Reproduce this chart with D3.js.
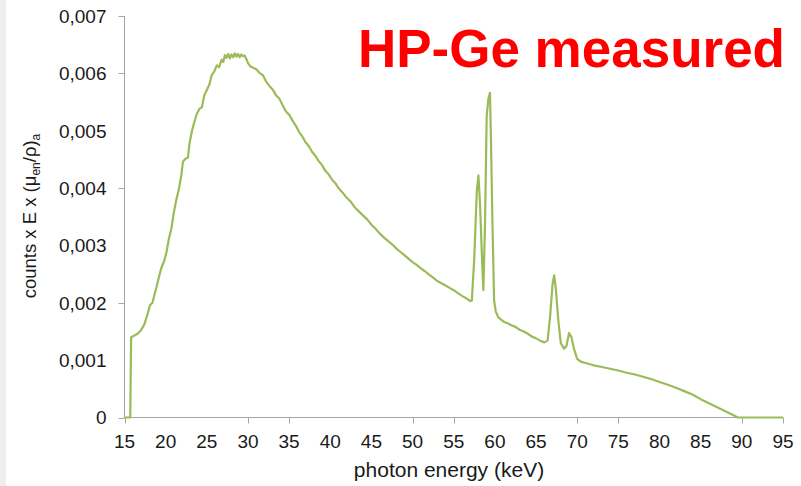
<!DOCTYPE html>
<html>
<head>
<meta charset="utf-8">
<script src="https://cdn.jsdelivr.net/npm/d3@7"></script>
<style>
  html, body { margin: 0; padding: 0; background: #fff; }
  svg { display: block; font-family: "Liberation Sans", Arial, sans-serif; }
</style>
</head>
<body>
<div id="chart"></div>
<script>
// photon energy (keV) and the measured curve
const energy = [
  15, 15.7, 15.8, 16.2, 16.6, 17.0, 17.4, 17.8, 18.1, 18.4, 18.6, 18.9, 19.2, 19.5, 19.8,
  20.1, 20.4, 20.7, 21.0, 21.3, 21.6, 21.9, 22.1, 22.4, 22.7, 22.9, 23.2, 23.5, 23.8, 24.1,
  24.4, 24.7, 25.0, 25.3, 25.6, 25.9, 26.2, 26.5, 26.8, 27.0, 27.2, 27.4, 27.6, 27.8, 28.0,
  28.2, 28.4, 28.6, 28.8, 29.0, 29.2, 29.4, 29.6, 29.8, 30.0, 30.3, 30.6, 31.0, 31.4, 31.8,
  32.2, 32.6, 33.0, 33.4, 33.8, 34.2, 34.6, 35.0, 35.4, 35.8, 36.2, 36.6, 37.0, 37.4, 37.8,
  38.2, 38.6, 39.0, 39.4, 39.8, 40.2, 40.6, 41.0, 41.5, 42.0, 42.5, 43.0, 43.5, 44.0, 44.5,
  45.0, 45.5, 46.0, 46.5, 47.0, 47.5, 48.0, 48.5, 49.0, 49.5, 50.0, 50.5, 51.0, 51.5, 52.0,
  52.5, 53.0, 53.5, 54.0, 54.5, 55.0, 55.5, 56.0, 56.5, 57.0, 57.2, 57.5, 57.8, 58.0, 58.2,
  58.4, 58.6, 58.8, 59.0, 59.2, 59.4, 59.5, 59.7, 59.9, 60.1, 60.4, 60.8, 61.2, 61.6, 62.0,
  62.5, 63.0, 63.5, 64.0, 64.5, 65.0, 65.5, 66.0, 66.4, 66.7, 67.0, 67.2, 67.4, 67.7, 68.0,
  68.4, 68.7, 69.0, 69.3, 69.6, 70.0, 70.5, 71.0, 72.0, 73.0, 74.0, 75.0, 76.0, 77.0, 78.0,
  79.0, 80.0, 81.0, 82.0, 83.0, 84.0, 85.0, 86.0, 87.0, 88.0, 89.0, 89.5, 90.0, 95.0
];
const counts = [
  0, 0, 0.00140, 0.00143, 0.00146, 0.00152, 0.00162, 0.00180, 0.00196, 0.00200, 0.00212, 0.00228, 0.00246, 0.00262, 0.00272,
  0.00288, 0.00312, 0.00330, 0.00358, 0.00380, 0.00398, 0.00422, 0.00446, 0.00451, 0.00453, 0.00478, 0.00500, 0.00516, 0.00530, 0.00538,
  0.00541, 0.00562, 0.00571, 0.00580, 0.00597, 0.00603, 0.00614, 0.00611, 0.00624, 0.00620, 0.00632, 0.00627, 0.00634, 0.00626, 0.00633,
  0.00628, 0.00635, 0.00629, 0.00634, 0.00628, 0.00633, 0.00630, 0.00631, 0.00625, 0.00618, 0.00612, 0.00610, 0.00607, 0.00601, 0.00597,
  0.00586, 0.00578, 0.00572, 0.00562, 0.00556, 0.00545, 0.00534, 0.00528, 0.00518, 0.00509, 0.00498, 0.00490, 0.00480, 0.00473, 0.00463,
  0.00456, 0.00447, 0.00440, 0.00430, 0.00424, 0.00415, 0.00409, 0.00400, 0.00392, 0.00383, 0.00376, 0.00366, 0.00359, 0.00352, 0.00345,
  0.00336, 0.00329, 0.00321, 0.00314, 0.00308, 0.00302, 0.00295, 0.00289, 0.00283, 0.00277, 0.00271, 0.00266, 0.00260, 0.00255, 0.00249,
  0.00244, 0.00238, 0.00234, 0.00230, 0.00226, 0.00222, 0.00217, 0.00212, 0.00208, 0.00203, 0.00204, 0.00280, 0.00395, 0.00422, 0.00370,
  0.00290, 0.00222, 0.00340, 0.00525, 0.00555, 0.00566, 0.00500, 0.00340, 0.00205, 0.00185, 0.00175, 0.00170, 0.00166, 0.00164, 0.00161,
  0.00158, 0.00153, 0.00150, 0.00146, 0.00141, 0.00138, 0.00134, 0.00131, 0.00134, 0.00175, 0.00232, 0.00248, 0.00225, 0.00170, 0.00130,
  0.00120, 0.00125, 0.00147, 0.00140, 0.00120, 0.00102, 0.00097, 0.00095, 0.00091, 0.00088, 0.00085, 0.00082, 0.00078, 0.00075, 0.00071,
  0.00067, 0.00062, 0.00057, 0.00052, 0.00046, 0.00040, 0.00032, 0.00025, 0.00018, 0.00011, 0.00004, 0, 0, 0
];

const xLabels = [15, 20, 25, 30, 35, 40, 45, 50, 55, 60, 65, 70, 75, 80, 85, 90, 95];
const xTickMarks = [15, 30, 35, 50, 55, 70, 75, 90, 95];
const yLabels = [0, 0.001, 0.002, 0.003, 0.004, 0.005, 0.006, 0.007];
const yTickMarks = [0, 0.002, 0.004, 0.006, 0.007];

function drawChart() {
  const width = 801, height = 486;
  const margin = { left: 124.5, right: 18, top: 16, bottom: 68.5 };

  const svg = d3.select("#chart").append("svg")
    .attr("width", width)
    .attr("height", height);

  // light strip on the left edge
  svg.append("rect").attr("x", 0).attr("y", 0).attr("width", 6).attr("height", height).attr("fill", "#eeeeee");

  const x = d3.scaleLinear().domain([15, 95]).range([margin.left, width - margin.right]);
  const y = d3.scaleLinear().domain([0, 0.007]).range([height - margin.bottom, margin.top]);

  const comma = d3.formatLocale({ decimal: ",", thousands: ".", grouping: [3], currency: ["", ""] }).format(".3f");
  const axisColor = "#a6a6a6";

  // y axis
  const gy = svg.append("g").attr("transform", `translate(${margin.left},0)`);
  gy.append("line").attr("x1", 0).attr("x2", 0).attr("y1", y(0.007)).attr("y2", y(0)).attr("stroke", axisColor);
  gy.selectAll("line.tick").data(yTickMarks).enter().append("line")
    .attr("class", "tick")
    .attr("x1", -6).attr("x2", 0)
    .attr("y1", d => Math.round(y(d)) + 0.5).attr("y2", d => Math.round(y(d)) + 0.5)
    .attr("stroke", axisColor);
  gy.selectAll("text").data(yLabels).enter().append("text")
    .attr("x", -18)
    .attr("y", d => y(d))
    .attr("dy", "0.36em")
    .attr("text-anchor", "end")
    .attr("font-size", 19)
    .attr("fill", "#1a1a1a")
    .text(d => d === 0 ? "0" : comma(d));

  // x axis
  const x0 = y(0);
  const gx = svg.append("g");
  gx.append("line").attr("x1", x(15)).attr("x2", x(95)).attr("y1", x0).attr("y2", x0).attr("stroke", axisColor);
  gx.selectAll("line.tick").data(xTickMarks).enter().append("line")
    .attr("class", "tick")
    .attr("x1", d => Math.round(x(d)) + 0.5).attr("x2", d => Math.round(x(d)) + 0.5)
    .attr("y1", x0).attr("y2", x0 + 6)
    .attr("stroke", axisColor);
  gx.selectAll("text").data(xLabels).enter().append("text")
    .attr("x", d => x(d))
    .attr("y", x0 + 30)
    .attr("text-anchor", "middle")
    .attr("font-size", 19)
    .attr("fill", "#1a1a1a")
    .text(d => d);

  // the curve
  const line = d3.line()
    .x((d, i) => x(energy[i]))
    .y(d => y(d));
  svg.append("path")
    .datum(counts)
    .attr("fill", "none")
    .attr("stroke", "#9bbb59")
    .attr("stroke-width", 2.2)
    .attr("stroke-linejoin", "round")
    .attr("d", line);

  // axis titles
  svg.append("text")
    .attr("x", 449)
    .attr("y", 477)
    .attr("text-anchor", "middle")
    .attr("font-size", 21)
    .attr("fill", "#1a1a1a")
    .text("photon energy (keV)");

  const yt = svg.append("text")
    .attr("transform", "translate(36,216) rotate(-90)")
    .attr("text-anchor", "middle")
    .attr("font-size", 18.5)
    .attr("fill", "#1a1a1a");
  yt.append("tspan").text("counts x E x (μ");
  yt.append("tspan").attr("font-size", 12).attr("dy", 4).text("en");
  yt.append("tspan").attr("dy", -4).text("/ρ)");
  yt.append("tspan").attr("font-size", 12).attr("dy", 4).text("a");

  // big red title
  svg.append("text")
    .attr("x", 785)
    .attr("y", 67)
    .attr("text-anchor", "end")
    .attr("font-size", 53)
    .attr("font-weight", "bold")
    .attr("fill", "#ff0000")
    .text("HP-Ge measured");
}

drawChart();
</script>
</body>
</html>
